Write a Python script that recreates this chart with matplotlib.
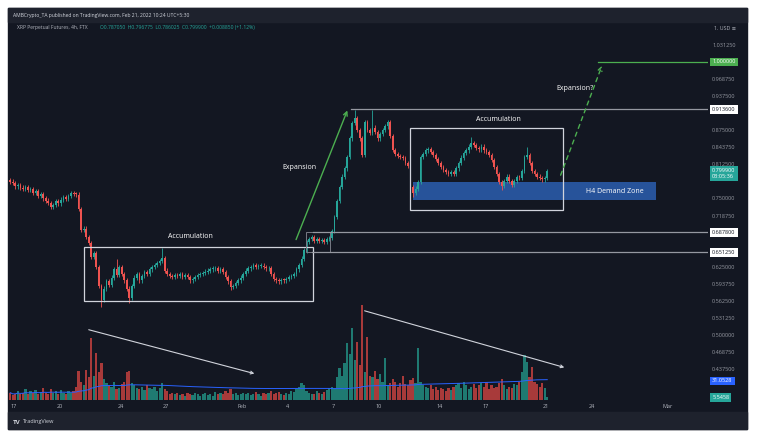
import numpy as np
import pandas as pd
import matplotlib
matplotlib.use("Agg")
import matplotlib.pyplot as plt
from matplotlib.patches import Rectangle

plt.rcParams['font.family'] = ['Open Sans', 'DejaVu Sans']

W, H = 758, 437
BG = '#131722'
PANEL = '#1e222d'
UP = '#26a69a'
DOWN = '#ef5350'
TXT = '#b2b5be'
WHITE = '#d1d4dc'

# XRP 4h closes, Jan 16 18:00 -> Feb 21 02:00
closes = [
    0.781, 0.778, 0.772, 0.775, 0.770, 0.768, 0.771, 0.765,
    0.767, 0.760, 0.763, 0.755, 0.758, 0.750, 0.746, 0.742,
    0.734, 0.738, 0.745, 0.741, 0.748, 0.752, 0.749, 0.755,
    0.760, 0.758, 0.757, 0.731,
    0.692, 0.695, 0.680, 0.668, 0.643, 0.650, 0.625, 0.590,
    0.564, 0.585, 0.598, 0.592, 0.605, 0.620, 0.610, 0.625,
    0.612, 0.600, 0.585, 0.568, 0.590, 0.605, 0.612, 0.600,
    0.608, 0.615, 0.612, 0.620, 0.624, 0.628, 0.632, 0.635,
    0.641, 0.618, 0.612, 0.608, 0.606, 0.610, 0.608, 0.612,
    0.607, 0.609, 0.606, 0.600, 0.603, 0.606, 0.610, 0.612,
    0.614, 0.616, 0.618, 0.620, 0.622, 0.623, 0.618, 0.620,
    0.615, 0.606, 0.598, 0.588, 0.590, 0.595, 0.600, 0.605,
    0.612, 0.618, 0.622, 0.625, 0.628, 0.624, 0.626, 0.627,
    0.625, 0.622, 0.622, 0.612, 0.603, 0.600, 0.598, 0.601,
    0.600, 0.602, 0.606, 0.608, 0.612, 0.620, 0.628, 0.640,
    0.655, 0.670, 0.676, 0.680, 0.672, 0.676, 0.672, 0.674,
    0.671, 0.676, 0.678, 0.690,
    0.716, 0.745, 0.771, 0.790, 0.805, 0.826, 0.860, 0.888,
    0.897, 0.875, 0.860, 0.830, 0.890, 0.875, 0.870, 0.880,
    0.872, 0.860, 0.868, 0.875, 0.882, 0.890, 0.865, 0.839,
    0.832, 0.828, 0.826, 0.824, 0.815, 0.810, 0.771, 0.760,
    0.768, 0.780, 0.826, 0.832, 0.838, 0.840, 0.835, 0.830,
    0.822, 0.815, 0.808, 0.802, 0.798, 0.795, 0.798, 0.795,
    0.805, 0.815, 0.825, 0.833, 0.838, 0.845, 0.852, 0.848,
    0.842, 0.840, 0.845, 0.838, 0.835, 0.830, 0.820, 0.808,
    0.795, 0.780, 0.773, 0.782, 0.790, 0.782, 0.775, 0.782,
    0.789, 0.788, 0.800, 0.826, 0.830, 0.815, 0.800, 0.795,
    0.790, 0.788, 0.785, 0.787, 0.7999,
]
first_open = 0.783
# notable wicks (candle index -> price)
high_wicks = {136: 0.913, 143: 0.912, 60: 0.659, 204: 0.845, 182: 0.862, 42: 0.640}
low_wicks = {36: 0.552, 47: 0.558, 159: 0.752, 194: 0.765, 87: 0.582}

# volume in millions (same candles)
volumes = [
    12, 8, 10, 15, 9, 12, 18, 10,
    14, 11, 16, 9, 13, 20, 12, 10,
    18, 12, 14, 10, 16, 11, 9, 14,
    12, 15, 22, 47,
    30, 24, 49, 38, 101, 40, 76, 45,
    60, 35, 28, 25, 22, 30, 18, 20,
    26, 30, 45, 48, 28, 24, 20, 18,
    22, 16, 25, 20, 18, 22, 15, 20,
    28, 18, 14, 10, 12, 9, 11, 8,
    10, 7, 12, 9, 8, 11, 10, 7,
    9, 12, 8, 10, 7, 13, 9, 11,
    10, 14, 12, 18, 9, 11, 8, 10,
    12, 9, 11, 8, 10, 13, 9, 7,
    11, 10, 12, 14, 9, 11, 13, 10,
    8, 12, 10, 15, 13, 18, 22, 28,
    25, 15, 12, 10, 9, 14, 11, 10,
    13, 16, 20, 22,
    20, 38, 52, 40, 60, 93, 75, 117,
    65, 95, 58, 155, 45, 103, 40, 38,
    48, 35, 42, 30, 68, 25, 28, 35,
    30, 22, 28, 40, 26, 25, 32, 36,
    28, 85, 30, 25, 22, 20, 24, 18,
    22, 16, 20, 18, 15, 20, 17, 22,
    25, 28, 20, 30, 24, 18, 22, 26,
    20, 24, 28, 22, 30, 18, 25, 20,
    22, 28, 35, 24, 18, 22, 20, 26,
    24, 30, 45, 73, 62, 38, 54, 30,
    26, 22, 28, 20, 5.5,
]

date_pos = [0, 3, 7, 10, 15, 18, 21, 24, 28, 31, 35, 38, 43]
date_labels = ['17', '20', '24', '27', 'Feb', '4', '7', '10', '14', '17', '21', '24', 'Mar']
price_ticks = [0.4375, 0.46875, 0.5, 0.53125, 0.5625, 0.59375, 0.625, 0.71875, 0.75,
               0.8125, 0.84375, 0.875, 0.9375, 0.96875, 1.03125]

n = len(closes)
x = -0.25 + np.arange(n) / 6.0
opens = [first_open] + closes[:-1]
highs = [high_wicks.get(i, max(o, c) + 0.004) for i, (o, c) in enumerate(zip(opens, closes))]
lows = [low_wicks.get(i, min(o, c) - 0.004) for i, (o, c) in enumerate(zip(opens, closes))]
up = np.array(closes) >= np.array(opens)
cols = np.where(up, UP, DOWN)

fig = plt.figure(figsize=(W / 100, H / 100), dpi=100)
fig.patch.set_facecolor('white')
fig.patches.append(Rectangle((8 / W, 1 - 429 / H), 739 / W, 421 / H, transform=fig.transFigure,
                             color=BG, zorder=-5))
fig.patches.append(Rectangle((8 / W, 1 - 22 / H), 739 / W, 14 / H, transform=fig.transFigure,
                             color=PANEL, zorder=-4))
fig.patches.append(Rectangle((8 / W, 1 - 429 / H), 739 / W, 17 / H, transform=fig.transFigure,
                             color=PANEL, zorder=-4))

ax = fig.add_axes([8 / W, 1 - 400 / H, 700 / W, 380 / H])
ax.set_facecolor(BG)
for s in ax.spines.values():
    s.set_visible(False)
ax.set_xlim(-0.395, 45.66)
ax.set_ylim(0.38095, 1.07692)

# volume overlay
vax = ax.twinx()
vax.set_ylim(0, 621)
vax.axis('off')
vcols = np.where(up, '#1f7a72', '#a83a3a')
vax.bar(x, volumes, width=0.145, color=vcols, zorder=1)
vma = pd.Series(volumes).rolling(100, min_periods=1).mean()
vax.plot(x, vma, color='#2962ff', lw=0.7, zorder=2)
vax.annotate('', xy=(15.99, 42), xytext=(4.74, 116),
             arrowprops=dict(arrowstyle='->', color=WHITE, lw=0.8, mutation_scale=5))
vax.annotate('', xy=(36.38, 52), xytext=(22.89, 147),
             arrowprops=dict(arrowstyle='->', color=WHITE, lw=0.8, mutation_scale=5))
ax.set_zorder(vax.get_zorder() + 1)
ax.patch.set_visible(False)
vax.patch.set_visible(False)

# candles
ax.vlines(x, lows, highs, colors=cols, lw=0.6, zorder=3)
body = np.array(closes) - np.array(opens)
body = np.where(np.abs(body) < 0.0015, 0.0015, body)
ax.bar(x, body, bottom=opens, width=0.11, color=cols, zorder=4)

# drawings
ax.add_patch(Rectangle((4.61, 0.562), 19.67 - 4.61, 0.661 - 0.562, fill=False, ec=WHITE, lw=0.9, zorder=5))
ax.add_patch(Rectangle((26.05, 0.729), 36.12 - 26.05, 0.879 - 0.729, fill=False, ec=WHITE, lw=0.9, zorder=5))
ax.add_patch(Rectangle((19.2, 0.6513), 20.8 - 19.2, 0.6878 - 0.6513, fill=False, ec='#787b86', lw=0.7, zorder=5))
ax.add_patch(Rectangle((26.25, 0.747), 42.24 - 26.25, 0.780 - 0.747, color='#2a5aa8', alpha=0.9, lw=0, zorder=2))
ax.text(39.5, 0.762, 'H4 Demand Zone', color='white', fontsize=5, ha='center', va='center', zorder=6)
ax.text(11.64, 0.6795, 'Accumulation', color='white', fontsize=5, ha='center', va='center', zorder=6)
ax.text(31.84, 0.894, 'Accumulation', color='white', fontsize=5, ha='center', va='center', zorder=6)
ax.text(18.8, 0.806, 'Expansion', color='white', fontsize=5, ha='center', va='center', zorder=6)
ax.text(36.9, 0.952, 'Expansion?', color='white', fontsize=5, ha='center', va='center', zorder=6)

ax.plot([38.4, 45.66], [1.0, 1.0], color='#4caf50', lw=0.9, zorder=5)
ax.plot([22.2, 45.66], [0.9136, 0.9136], color='#9598a1', lw=0.9, zorder=5)
ax.plot([19.7, 45.66], [0.6878, 0.6878], color='#9598a1', lw=0.9, zorder=5)
ax.plot([19.6, 45.66], [0.65125, 0.65125], color='#9598a1', lw=0.9, zorder=5)

ax.annotate('', xy=(22.0, 0.916), xytext=(18.49, 0.670),
            arrowprops=dict(arrowstyle='->', color='#4caf50', lw=1.0, mutation_scale=7), zorder=6)
ax.annotate('', xy=(38.75, 0.998), xytext=(35.9, 0.788),
            arrowprops=dict(arrowstyle='->', color='#4caf50', lw=1.0, ls=(0, (3, 3)),
                            mutation_scale=7), zorder=6)

# axes ticks
ax.set_xticks(date_pos)
ax.set_xticklabels(date_labels)
ax.tick_params(axis='x', length=0, pad=3, labelsize=4, labelcolor=TXT)
ax.yaxis.tick_right()
ax.set_yticks(price_ticks)
ax.set_yticklabels(['%.6f' % p for p in price_ticks])
ax.tick_params(axis='y', length=0, pad=3, labelsize=4, labelcolor='#9598a1')

# price axis badges
def badge(y, text, fc, tc):
    ax.annotate(text, xy=(1.006, y), xycoords=('axes fraction', 'data'), fontsize=4, color=tc,
                ha='left', va='center', zorder=10, annotation_clip=False,
                bbox=dict(boxstyle='square,pad=0.35', fc=fc, ec='none'))

badge(1.0, '1.000000', '#4caf50', 'white')
badge(0.9136, '0.913600', 'white', '#131722')
badge(0.7999 - 0.004, '0.799900\n03:05:36', UP, 'white')
badge(0.6878, '0.687800', 'white', '#131722')
badge(0.65125, '0.651250', 'white', '#131722')

vax.annotate('31.0528', xy=(1.006, 31.05), xycoords=('axes fraction', 'data'), fontsize=4, color='white',
             ha='left', va='center', zorder=10, annotation_clip=False,
             bbox=dict(boxstyle='square,pad=0.35', fc='#2962ff', ec='none'))
vax.annotate('5.5458', xy=(1.006, 3.5), xycoords=('axes fraction', 'data'), fontsize=4, color='white',
             ha='left', va='center', zorder=10, annotation_clip=False,
             bbox=dict(boxstyle='square,pad=0.35', fc=UP, ec='none'))

# header / footer
fig.text(13 / W, 1 - 16 / H, 'AMBCrypto_TA published on TradingView.com, Feb 21, 2022 10:24 UTC+5:30',
         fontsize=3.6, color=WHITE, va='center')
fig.text(17 / W, 1 - 28 / H, 'XRP Perpetual Futures, 4h, FTX', fontsize=3.6, color=TXT, va='center')
fig.text(100 / W, 1 - 28 / H, 'O0.787050  H0.796775  L0.786025  C0.799900  +0.008850 (+1.12%)',
         fontsize=3.6, color=UP, va='center')
fig.text(714 / W, 1 - 28 / H, '1. USD \u2261', fontsize=3.8, color=TXT, va='center')
fig.text(13 / W, 1 - 422 / H, 'TV', fontsize=4.5, color=WHITE, va='center', weight='bold')
fig.text(23 / W, 1 - 422 / H, 'TradingView', fontsize=4, color=WHITE, va='center')

fig.savefig('out.png', dpi=100, facecolor=fig.get_facecolor())
